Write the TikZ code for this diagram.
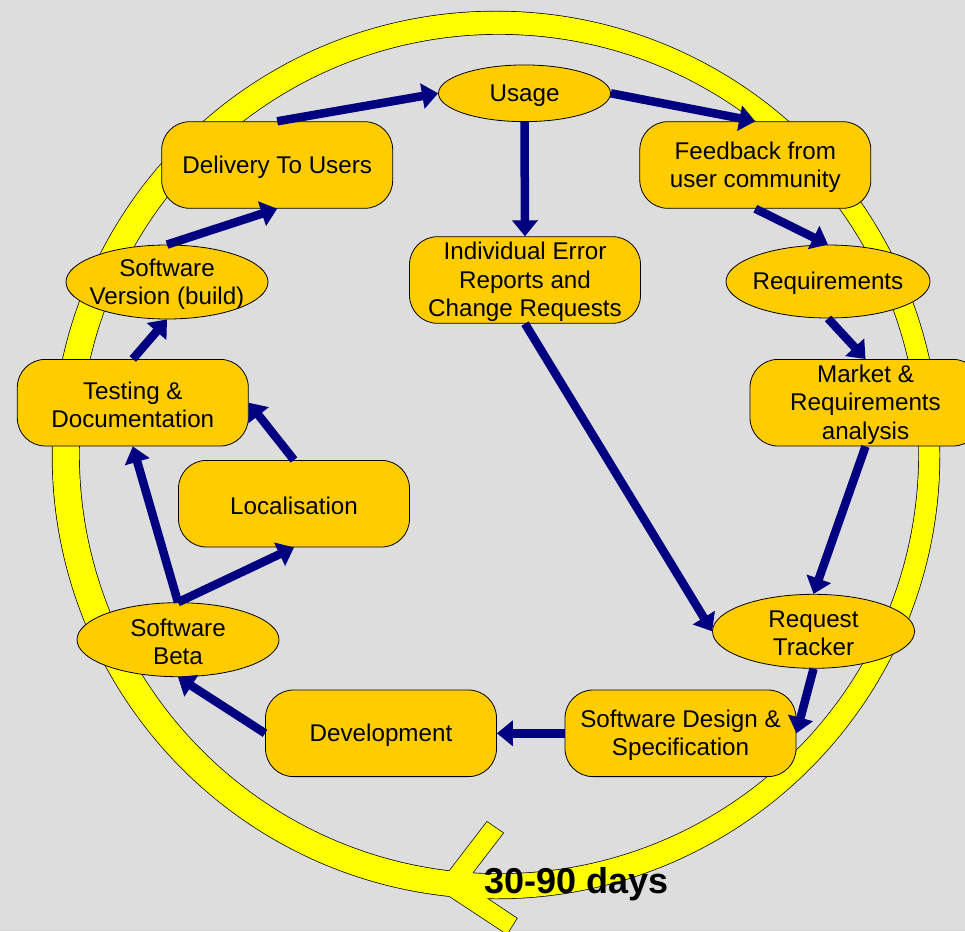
\documentclass[tikz,border=0pt]{standalone}
\usepackage{fontspec}
\setmainfont{Liberation Sans}
\usetikzlibrary{shapes.geometric, arrows.meta}
\definecolor{bg}{HTML}{DDDDDD}
\definecolor{boxfill}{HTML}{FFCC00}
\definecolor{navyblue}{HTML}{000080}
\definecolor{ringyellow}{HTML}{FFFF00}
\begin{document}
\begin{tikzpicture}[x=1pt,y=-1pt,
  box/.style={draw=black, line width=0.8pt, fill=boxfill, rounded corners=28pt,
    minimum width=231pt, minimum height=86.6pt, inner sep=0pt},
  oval/.style={draw=black, line width=0.8pt, fill=boxfill, ellipse, inner sep=0pt,
    minimum width=202pt, minimum height=74pt},
  lbl/.style={font=\fontsize{24.2}{28.3}\selectfont, align=center, text=black, inner sep=0pt, yshift=-2pt},
  flow/.style={draw=navyblue, line width=8.5pt, -{Triangle[width=25pt,length=16pt]}},
]
% canvas
\fill[bg] (0,0) rectangle (965,931);
\useasboundingbox (0,0) rectangle (965,931);

% ring and chevron: outlines first, then yellow fill over them
\coordinate (ca) at (487,822);
\coordinate (cb) at (503,833);
\coordinate (cc) at (464.4,883.4);
\coordinate (cd) at (516.7,918.3);
\coordinate (ce) at (507,934);
\coordinate (cf) at (436.7,887.7);
\coordinate (rc) at (496,455);
\coordinate (ic) at (499,454);
\draw[black, line width=1.4pt, even odd rule] (rc) circle[radius=443.5pt] (ic) circle[radius=420pt];
\draw[black, line width=1.4pt] (ca) -- (cb) -- (cc) -- (cd) -- (ce) -- (cf) -- cycle;
\fill[ringyellow, even odd rule] (rc) circle[radius=443.5pt] (ic) circle[radius=420pt];
\fill[ringyellow] (ca) -- (cb) -- (cc) -- (cd) -- (ce) -- (cf) -- cycle;

% nodes
\node[oval, minimum width=172pt, minimum height=56.7pt] (usage) at (524.5,93.3) {};
\node[lbl] at (usage) {Usage};
\node[box] (feed) at (755.3,165) {};
\node[lbl] at (feed) {Feedback from\\user community};
\node[oval, minimum width=204pt, minimum height=73pt] (req) at (828,281.5) {};
\node[lbl] at (req) {Requirements};
\node[box] (market) at (865.5,402.7) {};
\node[lbl] at (market) {Market \&\\Requirements\\analysis};
\node[oval] (tracker) at (813.5,631.3) {};
\node[lbl] at (tracker) {Request\\Tracker};
\node[box] (design) at (680.5,733.3) {};
\node[lbl] at (design) {Software Design \&\\Specification};
\node[box] (dev) at (381,733.3) {};
\node[lbl] at (dev) {Development};
\node[oval] (beta) at (178,639.7) {};
\node[lbl] at (beta) {Software\\Beta};
\node[box] (loc) at (294,503.7) {};
\node[lbl] at (loc) {Localisation};
\node[box] (test) at (132.8,402.7) {};
\node[lbl] at (test) {Testing \&\\Documentation};
\node[oval] (ver) at (167,282) {};
\node[lbl] at (ver) {Software\\Version (build)};
\node[box] (deliv) at (277.2,165) {};
\node[lbl] at (deliv) {Delivery To Users};
\node[box] (err) at (525,280) {};
\node[lbl] at (err) {Individual Error\\Reports and\\Change Requests};

% connectors
\draw[flow] (deliv.north) -- (usage.west);
\draw[flow] (usage.east) -- (feed.north);
\draw[flow] (usage.south) -- (err.north);
\draw[flow] (feed.south) -- (req.north);
\draw[flow] (req.south) -- (market.north);
\draw[flow] (market.south) -- (tracker.north);
\draw[flow] (err.south) -- (tracker.west);
\draw[flow] (tracker.south) -- (design.east);
\draw[flow] (design.west) -- (dev.east);
\draw[flow] (dev.west) -- (beta.south);
\draw[flow] (beta.north) -- (loc.south);
\draw[flow] (beta.north) -- (test.south);
\draw[flow] (loc.north) -- (test.east);
\draw[flow] (test.north) -- (ver.south);
\draw[flow] (ver.north) -- (deliv.south);

% duration label
\node[font=\bfseries\fontsize{36}{40}\selectfont, text=black, inner sep=0pt, anchor=base] (days) at (577,893) {30-90 days};
\end{tikzpicture}
\end{document}
